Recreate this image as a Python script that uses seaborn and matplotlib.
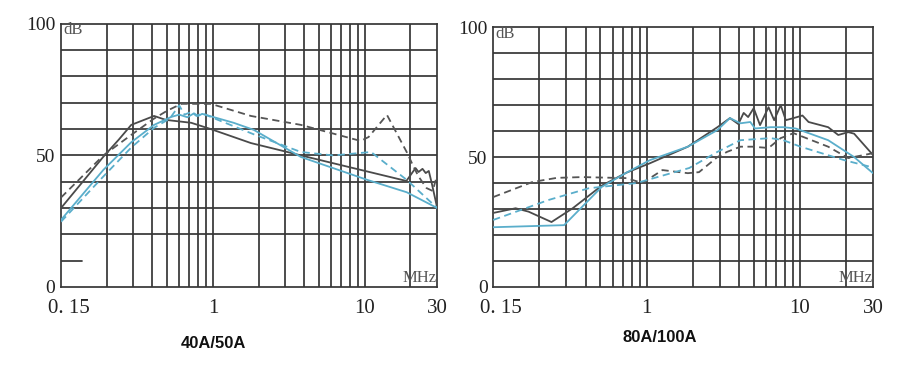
import pandas as pd
import seaborn as sns
import matplotlib.pyplot as plt
import numpy as np

# 40A/50A - frequency (MHz) and level (dB) for the four curves
l_black_f = [0.1, 0.19, 0.24, 0.29, 0.41, 0.49, 0.72, 0.97, 1.78, 2.9, 3.8, 18.8, 21.6, 22.6, 24, 25.2, 26.4, 27.6, 30]
l_black_db = [30, 49.5, 56, 61.6, 65, 63.5, 62.4, 60, 54.7, 51.7, 50, 40.3, 45.2, 43.7, 44.9, 43.3, 44.1, 39.5, 30]

l_black_dash_f = [0.1, 0.19, 0.29, 0.41, 0.5, 0.62, 0.97, 1.78, 3.8, 9.4, 10.6, 14, 19, 21, 22.6, 25.5, 28, 30]
l_black_dash_db = [34, 50, 57.8, 64, 67, 69.6, 69.6, 65, 61.6, 55.5, 57, 65.4, 51, 45.6, 42, 37.6, 36.5, 42.6]

l_blue_f = [0.1, 0.19, 0.29, 0.41, 0.53, 0.6, 0.68, 0.75, 0.8, 0.85, 1.37, 1.86, 3.8, 10.4, 18.9, 30]
l_blue_db = [25.5, 44.5, 55, 61.6, 64.6, 65.5, 64.5, 66, 65, 65.8, 62.4, 59.7, 49.4, 40.7, 36, 30]

l_blue_dash_f = [0.1, 0.19, 0.29, 0.41, 0.52, 0.6, 0.65, 0.72, 0.78, 0.85, 1.08, 1.9, 3.8, 6.2, 11, 18.9, 30]
l_blue_dash_db = [24.8, 42, 53, 60.5, 64, 69, 65.5, 66.5, 65, 66, 63.5, 57.8, 51.3, 50, 51.3, 40.7, 30]

# 80A/100A
r_black_f = [0.1, 0.14, 0.17, 0.24, 0.33, 0.51, 0.74, 1.05, 1.86, 2.9, 3.5, 3.97, 4.3, 4.6, 5.0, 5.5,
             6.25, 6.8, 7.5, 8.1, 9.1, 10.4, 11.4, 15.3, 17.8, 20.7, 22.6, 30]
r_black_db = [28.5, 30.3, 29, 25, 30.3, 39, 44, 47.6, 54, 61.5, 65, 62.7, 67, 65.4, 68.8, 62.3,
              69.2, 64.2, 70, 64.2, 65, 66, 63.5, 61.5, 58.5, 59.6, 59, 50.8]

r_black_dash_f = [0.1, 0.18, 0.26, 0.38, 0.74, 0.94, 1.27, 1.86, 2.2, 2.9, 3.35, 4.1, 4.9, 6.25, 7.5, 9.1, 15.3, 20.7, 30]
r_black_dash_db = [34.6, 40.4, 42, 42.3, 41.9, 40, 45, 43.8, 44.2, 50, 52, 54, 54, 53.5, 57.3, 59.2, 54, 49.6, 51.5]

r_blue_f = [0.1, 0.29, 0.51, 0.74, 1.05, 1.86, 2.9, 3.5, 4.1, 4.75, 5.1, 6.45, 7.8, 9.4, 15.3, 22.6, 30]
r_blue_db = [23, 23.8, 38.5, 44, 48.8, 54, 60.4, 65, 63, 63.5, 61, 61.5, 61.5, 61, 56.5, 50, 43.8]

r_blue_dash_f = [0.1, 0.23, 0.42, 0.86, 1.9, 2.9, 4.1, 6.45, 7.8, 10.1, 19.5, 30]
r_blue_dash_db = [25.8, 33.5, 38, 40, 45.8, 52, 56.5, 57.3, 56.5, 54, 48.8, 46]

titles = ['40A/50A', '80A/100A']
xtick_pos = [0.113, 1, 10, 30]
xtick_labels = ['0. 15', '1', '10', '30']
ytick_pos = [0, 50, 100]
grid_f = [0.2, 0.3, 0.4, 0.5, 0.6, 0.7, 0.8, 0.9, 1, 2, 3, 4, 5, 6, 7, 8, 9, 10, 20]
grid_db = [10, 20, 30, 40, 50, 60, 70, 80, 90]


def make_df(bf, bdb, kf, kdb, uf, udb, vf, vdb):
    parts = []
    for name, f, d in [('black', bf, bdb), ('black dash', kf, kdb),
                       ('blue', uf, udb), ('blue dash', vf, vdb)]:
        parts.append(pd.DataFrame({'freq': f, 'dB': d, 'curve': name}))
    return pd.concat(parts, ignore_index=True)


df_left = make_df(l_black_f, l_black_db, l_black_dash_f, l_black_dash_db,
                  l_blue_f, l_blue_db, l_blue_dash_f, l_blue_dash_db)
df_right = make_df(r_black_f, r_black_db, r_black_dash_f, r_black_dash_db,
                   r_blue_f, r_blue_db, r_blue_dash_f, r_blue_dash_db)

sns.set_style('white')
plt.rcParams['font.family'] = ['Liberation Serif', 'DejaVu Serif']

grid_col = '#363636'
palette = {'black': '#4a4a4a', 'black dash': '#555555', 'blue': '#5aaecb', 'blue dash': '#5aaecb'}
dashes = {'black': '', 'black dash': (4, 2.5), 'blue': '', 'blue dash': (4, 2.5)}

fig = plt.figure(figsize=(9, 3.67), dpi=100)
ax_l = fig.add_axes([0.0678, 0.218, 0.418, 0.717])
ax_r = fig.add_axes([0.548, 0.218, 0.422, 0.708])

for i, (ax, df) in enumerate([(ax_l, df_left), (ax_r, df_right)]):
    ax.set_xscale('log')
    # grid drawn by hand (the left chart has only a stub at 10 dB)
    for f in grid_f:
        ax.axvline(f, color=grid_col, lw=1.25, zorder=1)
    for d in grid_db:
        if i == 0 and d == 10:
            ax.axhline(d, xmin=0, xmax=0.056, color=grid_col, lw=1.25, zorder=1)
        else:
            ax.axhline(d, color=grid_col, lw=1.25, zorder=1)

    sns.lineplot(data=df, x='freq', y='dB', hue='curve', style='curve',
                 palette=palette, dashes=dashes, estimator=None, sort=False,
                 lw=1.3, legend=False, ax=ax, zorder=3)

    ax.set_xlim(0.1, 30)
    ax.set_ylim(0, 100)
    ax.set_xticks(xtick_pos)
    ax.set_xticklabels(xtick_labels, fontsize=15)
    ax.xaxis.set_minor_locator(plt.NullLocator())
    ax.set_yticks(ytick_pos)
    ax.set_yticklabels([str(v) for v in ytick_pos], fontsize=14)
    ax.tick_params(axis='x', length=0, pad=9, colors='#222222')
    ax.tick_params(axis='y', length=0, pad=4, colors='#222222')
    ax.set_xlabel('')
    ax.set_ylabel('')
    for sp in ax.spines.values():
        sp.set_color(grid_col)
        sp.set_linewidth(1.25)

    ax.text(0.006, 1.006, 'dB', transform=ax.transAxes, ha='left', va='top',
            fontsize=12, color='#555555')
    ax.text(0.998, 0.004, 'MHz', transform=ax.transAxes, ha='right', va='bottom',
            fontsize=12, color='#555555')

fig.text(213 / 900, 1 - 343 / 367, titles[0], ha='center', va='center',
         fontsize=12, fontweight='bold', family='Liberation Sans', color='#111111')
fig.text(660 / 900, 1 - 337 / 367, titles[1], ha='center', va='center',
         fontsize=12, fontweight='bold', family='Liberation Sans', color='#111111')

fig.savefig('out.png', dpi=100)
